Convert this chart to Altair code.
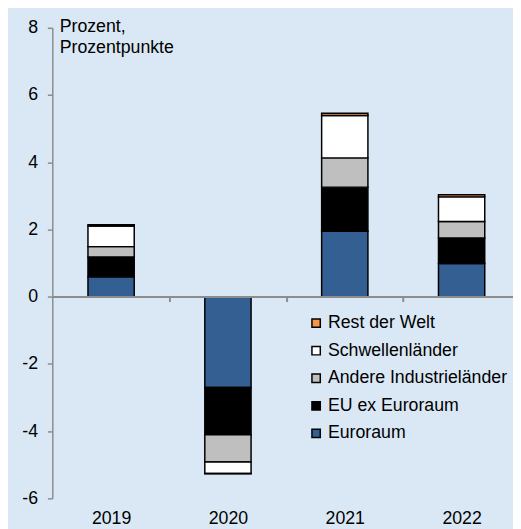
import altair as alt
import pandas as pd

years = ["2019", "2020", "2021", "2022"]
series = ["Euroraum", "EU ex Euroraum", "Andere Industrieländer", "Schwellenländer", "Rest der Welt"]
euroraum = [0.59, -2.70, 1.95, 0.99]
eu_ex = [0.59, -1.41, 1.31, 0.76]
andere = [0.31, -0.81, 0.87, 0.49]
schwellen = [0.61, -0.34, 1.26, 0.73]
rest = [0.04, -0.01, 0.07, 0.06]
colors = ["#345f92", "#000000", "#bfbfbf", "#ffffff", "#f79646"]
y_ticks = [-6, -4, -2, 0, 2, 4, 6, 8]

values = [euroraum, eu_ex, andere, schwellen, rest]
rows = []
for i, (name, vals) in enumerate(zip(series, values)):
    for year, v in zip(years, vals):
        rows.append({"Jahr": year, "Reihe": name, "Wert": v, "idx": i})
df = pd.DataFrame(rows)

legend_order = series[::-1]
legend_colors = colors[::-1]

FONT = "Liberation Sans"
STEP = 118.7

chart = alt.Chart(df).mark_bar(stroke="black", strokeWidth=1.5).encode(
    x=alt.X(
        "Jahr:N", sort=years,
        scale=alt.Scale(paddingInner=0.604, paddingOuter=0.2735, align=0.558),
        axis=alt.Axis(
            orient="bottom", offset=-205, title=None, labelAngle=0,
            labelFontSize=18, labelColor="black", labelFont=FONT,
            labelPadding=212, tickOffset=STEP / 2, labelOffset=-STEP / 2,
            tickSize=5, tickColor="#8c8c8c", tickWidth=2,
            domainColor="#8c8c8c", domainWidth=2, zindex=1,
        ),
    ),
    y=alt.Y(
        "Wert:Q", stack="zero",
        scale=alt.Scale(domain=[-6, 8], nice=False, zero=False),
        axis=alt.Axis(
            values=y_ticks, grid=False, labelExpr="'' + datum.value",
            title=["Prozent,", "Prozentpunkte"], titleAngle=0,
            titleAlign="left", titleBaseline="top", titleX=7, titleY=-10,
            titleFontSize=18, titleFontWeight="normal", titleColor="black",
            titleFont=FONT, titleLineHeight=21,
            labelFontSize=18, labelColor="black", labelFont=FONT,
            labelPadding=10, tickSize=5, tickColor="#8c8c8c", tickWidth=1.5,
            domainColor="#8c8c8c", domainWidth=1.5,
        ),
    ),
    color=alt.Color(
        "Reihe:N",
        scale=alt.Scale(domain=legend_order, range=legend_colors),
        legend=alt.Legend(
            orient="none", legendX=259, legendY=291, title=None,
            symbolType="square", symbolSize=72, symbolStrokeColor="black",
            symbolStrokeWidth=1.5, labelFontSize=18, labelFont=FONT,
            labelColor="black", labelOffset=3, rowPadding=10, padding=0,
            labelLimit=0,
        ),
    ),
    order=alt.Order("idx:Q", sort="ascending"),
).properties(
    width=468, height=478,
    background="#dae8f5",
    padding={"left": 45, "top": 16, "right": 0, "bottom": 27},
    autosize=alt.AutoSizeParams(type="none"),
).configure_view(stroke=None)

chart.save("out.html", embed_options={"renderer": "svg", "actions": False})
